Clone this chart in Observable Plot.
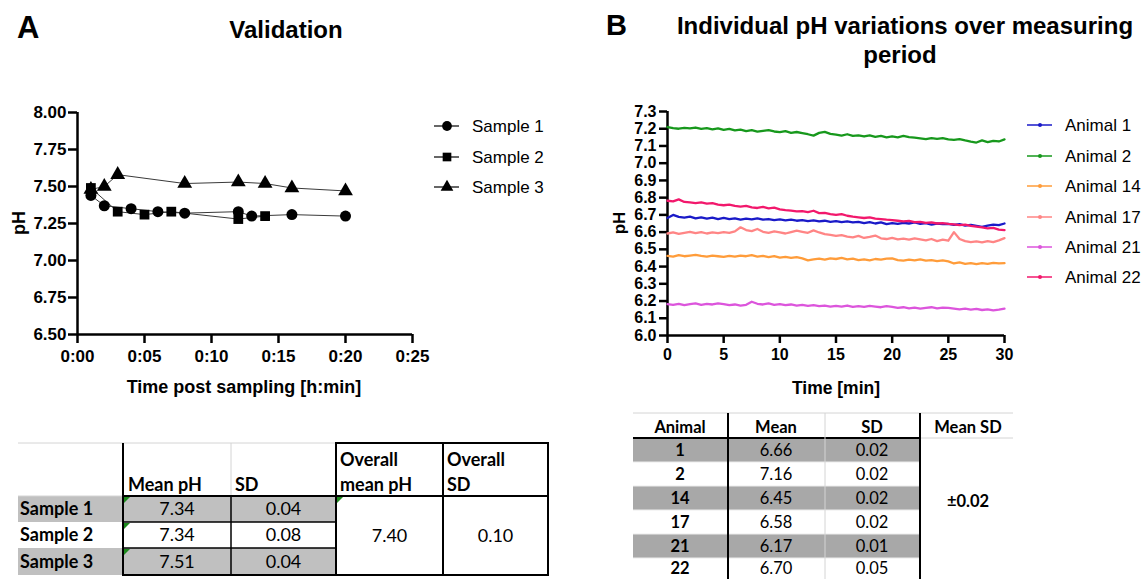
<!DOCTYPE html>
<html><head><meta charset="utf-8">
<script src="https://cdn.jsdelivr.net/npm/d3@7"></script>
<script src="https://cdn.jsdelivr.net/npm/@observablehq/plot@0.6"></script>
<style>
html,body{margin:0;padding:0;background:#fff;}
#page{position:relative;width:1148px;height:579px;overflow:hidden;}
#page > svg{position:absolute;}
</style></head>
<body><div id="page"></div>
<script>
// ---------- Panel A data ----------
const sampleNames = ["Sample 1","Sample 2","Sample 3"];
const sample1Time = [1,2,4,6,8,12,13,16,20];
const sample1PH   = [7.44,7.37,7.35,7.33,7.32,7.33,7.30,7.31,7.30];
const sample2Time = [1,3,5,7,12,14];
const sample2PH   = [7.49,7.33,7.31,7.33,7.28,7.30];
const sample3Time = [1,2,3,8,12,14,16,20];
const sample3PH   = [7.48,7.50,7.58,7.52,7.53,7.52,7.49,7.47];
const xTicksA = [0,5,10,15,20,25];
const yTicksA = [6.50,6.75,7.00,7.25,7.50,7.75,8.00];

// ---------- Panel A table ----------
const tableSampleLabels = ["Sample 1","Sample 2","Sample 3"];
const tableMeanPH = ["7.34","7.34","7.51"];
const tableSD = ["0.04","0.08","0.04"];
const overallMeanPH = "7.40";
const overallSD = "0.10";

// ---------- Panel B data ----------
const animalNames = ["Animal 1","Animal 2","Animal 14","Animal 17","Animal 21","Animal 22"];
const animalColors = ["#1a1ac8","#17981c","#ff9c3a","#ff8585","#dc55dc","#f2186c"];
const timeB = [0,0.5,1,1.5,2,2.5,3,3.5,4,4.5,5,5.5,6,6.5,7,7.5,8,8.5,9,9.5,10,10.5,11,11.5,12,12.5,13,13.5,14,14.5,15,15.5,16,16.5,17,17.5,18,18.5,19,19.5,20,20.5,21,21.5,22,22.5,23,23.5,24,24.5,25,25.5,26,26.5,27,27.5,28,28.5,29,29.5,30];
const animal1PH = [6.682,6.700,6.688,6.684,6.690,6.680,6.686,6.678,6.684,6.676,
  6.682,6.675,6.680,6.672,6.678,6.674,6.680,6.672,6.676,6.670,
  6.674,6.668,6.672,6.666,6.670,6.664,6.668,6.662,6.666,6.660,
  6.664,6.658,6.662,6.656,6.660,6.652,6.658,6.650,6.656,6.646,
  6.652,6.648,6.654,6.650,6.656,6.648,6.652,6.644,6.650,6.646,
  6.648,6.642,6.646,6.638,6.642,6.636,6.630,6.638,6.644,6.640,6.650];
const animal2PH = [7.210,7.203,7.200,7.205,7.202,7.207,7.199,7.203,7.196,7.202,
  7.193,7.199,7.190,7.195,7.186,7.192,7.183,7.188,7.192,7.184,
  7.180,7.186,7.176,7.181,7.175,7.168,7.160,7.176,7.182,7.170,
  7.166,7.160,7.168,7.158,7.162,7.155,7.162,7.153,7.158,7.150,
  7.155,7.150,7.158,7.151,7.148,7.144,7.140,7.146,7.141,7.145,
  7.138,7.135,7.140,7.132,7.125,7.120,7.132,7.122,7.130,7.126,7.138];
const animal14PH = [6.462,6.458,6.466,6.460,6.464,6.468,6.462,6.458,6.464,6.460,
  6.456,6.462,6.458,6.464,6.460,6.466,6.458,6.462,6.455,6.460,
  6.452,6.456,6.450,6.455,6.448,6.436,6.442,6.446,6.440,6.448,
  6.444,6.450,6.442,6.446,6.438,6.442,6.436,6.444,6.440,6.446,
  6.448,6.438,6.434,6.440,6.436,6.442,6.434,6.438,6.432,6.436,
  6.430,6.418,6.424,6.416,6.420,6.414,6.420,6.416,6.422,6.418,6.420];
const animal17PH = [6.592,6.598,6.590,6.596,6.602,6.594,6.600,6.592,6.598,6.594,
  6.600,6.596,6.604,6.628,6.612,6.606,6.618,6.602,6.596,6.604,
  6.598,6.592,6.600,6.608,6.602,6.596,6.610,6.598,6.588,6.584,
  6.578,6.582,6.574,6.570,6.578,6.566,6.572,6.580,6.564,6.560,
  6.566,6.558,6.562,6.556,6.564,6.558,6.552,6.560,6.548,6.556,
  6.550,6.600,6.560,6.548,6.542,6.546,6.540,6.548,6.542,6.552,6.565];
const animal21PH = [6.182,6.178,6.184,6.176,6.182,6.186,6.178,6.184,6.180,6.186,
  6.182,6.176,6.180,6.174,6.178,6.196,6.184,6.180,6.186,6.178,
  6.182,6.176,6.180,6.174,6.178,6.172,6.176,6.170,6.174,6.168,
  6.172,6.168,6.174,6.166,6.170,6.166,6.172,6.168,6.164,6.170,
  6.166,6.160,6.164,6.158,6.162,6.156,6.160,6.164,6.158,6.162,
  6.160,6.156,6.152,6.156,6.150,6.154,6.148,6.152,6.146,6.150,6.156];
const animal22PH = [6.782,6.778,6.790,6.775,6.772,6.768,6.772,6.765,6.768,6.760,
  6.756,6.760,6.752,6.748,6.752,6.744,6.740,6.746,6.738,6.742,
  6.732,6.728,6.725,6.720,6.722,6.716,6.724,6.710,6.712,6.705,
  6.700,6.704,6.695,6.690,6.686,6.682,6.686,6.678,6.675,6.672,
  6.670,6.666,6.662,6.665,6.658,6.660,6.654,6.656,6.650,6.652,
  6.648,6.645,6.640,6.644,6.636,6.632,6.628,6.622,6.625,6.615,6.612];
const xTicksB = [0,5,10,15,20,25,30];
const yTicksB = [6.0,6.1,6.2,6.3,6.4,6.5,6.6,6.7,6.8,6.9,7.0,7.1,7.2,7.3];

// ---------- Panel B table ----------
const animalIds = ["1","2","14","17","21","22"];
const animalMeans = ["6.66","7.16","6.45","6.58","6.17","6.70"];
const animalSDs = ["0.02","0.02","0.02","0.02","0.01","0.05"];
const meanSD = "±0.02";

// ---------- build tables for Plot ----------
const dataA = [];
[[sample1Time,sample1PH],[sample2Time,sample2PH],[sample3Time,sample3PH]].forEach(([ts,ps],i)=>{
  ts.forEach((t,j)=>dataA.push({sample:sampleNames[i], t, ph:ps[j]}));
});
const seriesB = [animal1PH,animal2PH,animal14PH,animal17PH,animal21PH,animal22PH];
const dataB = [];
seriesB.forEach((ps,i)=>ps.forEach((p,j)=>dataB.push({animal:animalNames[i], t:timeB[j], ph:p})));

const page = document.getElementById("page");
const ARIAL = "'Liberation Sans', Arial, sans-serif";

// ---------- Panel A chart ----------
const chartA = Plot.plot({
  width: 440, height: 320,
  marginLeft: 77, marginRight: 28, marginTop: 22, marginBottom: 76,
  style: {fontFamily: ARIAL, fontSize: "17px", fontWeight: "bold", color: "#000", background: "transparent", overflow: "visible"},
  x: {domain: [0, 25]},
  y: {domain: [6.5, 8.0]},
  symbol: {domain: sampleNames, range: ["circle","square","triangle"]},
  marks: [
    Plot.axisX({ticks: xTicksA, tickFormat: d => "0:" + String(d).padStart(2,"0"), tickSize: 9, tickPadding: 6, strokeWidth: 2.5, label: null}),
    Plot.axisY({ticks: yTicksA, tickFormat: d => d.toFixed(2), tickSize: 9, tickPadding: 2, strokeWidth: 2.5, label: null}),
    Plot.ruleY([6.5], {strokeWidth: 2.5}),
    Plot.ruleX([0], {strokeWidth: 2.5}),
    Plot.line(dataA, {x: "t", y: "ph", z: "sample", stroke: "#3a3a3a", strokeWidth: 1}),
    Plot.dot(dataA, {x: "t", y: "ph", symbol: "sample", fill: "#000", stroke: "none", r: 5.5})
  ]
});
chartA.style.left = "0px"; chartA.style.top = "90px";
page.appendChild(chartA);

// ---------- Panel B chart ----------
const chartB = Plot.plot({
  width: 420, height: 290,
  marginLeft: 67, marginRight: 16, marginTop: 21, marginBottom: 45,
  style: {fontFamily: ARIAL, fontSize: "16px", fontWeight: "bold", color: "#000", background: "transparent", overflow: "visible"},
  x: {domain: [0, 30]},
  y: {domain: [6.0, 7.3]},
  color: {domain: animalNames, range: animalColors},
  marks: [
    Plot.axisX({ticks: xTicksB, tickSize: 8, tickPadding: 5, strokeWidth: 2.5, label: null}),
    Plot.axisY({ticks: yTicksB, tickFormat: d => d.toFixed(1), tickSize: 8, tickPadding: 3, strokeWidth: 2.5, label: null}),
    Plot.ruleX([0], {strokeWidth: 2.5}),
    Plot.ruleY([6.0], {strokeWidth: 2.5}),
    Plot.line(dataB, {x: "t", y: "ph", stroke: "animal", strokeWidth: 2.3})
  ]
});
chartB.style.left = "600px"; chartB.style.top = "90px";
page.appendChild(chartB);

// ---------- Overlay: titles, labels, legends, tables ----------
const ov = d3.select(page).append("svg").attr("width",1148).attr("height",579)
  .style("left","0px").style("top","0px");
function txt(x,y,s,o={}) {
  return ov.append("text").attr("x",x).attr("y",y).text(s)
    .attr("font-family", o.family || ARIAL).attr("font-size", o.size || 17)
    .attr("font-weight", o.weight || "normal").attr("text-anchor", o.anchor || "start")
    .attr("fill","#000");
}
// titles
txt(17,38,"A",{size:31,weight:"bold"});
txt(286,38,"Validation",{size:24,weight:"bold",anchor:"middle"});
txt(606,35,"B",{size:29,weight:"bold"});
txt(905,34,"Individual pH variations over measuring",{size:24,weight:"bold",anchor:"middle"});
txt(900,63,"period",{size:24,weight:"bold",anchor:"middle"});
// axis labels
txt(244,393,"Time post sampling [h:min]",{size:18,weight:"bold",anchor:"middle"});
txt(0,0,"pH",{size:18,weight:"bold",anchor:"middle"}).attr("transform","translate(25,223) rotate(-90)");
txt(836,394,"Time [min]",{size:17.5,weight:"bold",anchor:"middle"});
txt(0,0,"pH",{size:17,weight:"bold",anchor:"middle"}).attr("transform","translate(625,223) rotate(-90)");

// legend A
const legASym = [d3.symbolCircle, d3.symbolSquare, d3.symbolTriangle];
const legASize = [75, 75, 70];
sampleNames.forEach((n,i)=>{
  const y = [126,157,187][i];
  ov.append("line").attr("x1",434).attr("x2",459).attr("y1",y).attr("y2",y).attr("stroke","#000").attr("stroke-width",1.2);
  ov.append("path").attr("d", d3.symbol(legASym[i], legASize[i])()).attr("transform",`translate(447,${y})`).attr("fill","#000");
  txt(472,y+6,n,{size:17});
});
// legend B
animalNames.forEach((n,i)=>{
  const y = [125,156,186,217,247,277][i];
  ov.append("line").attr("x1",1027).attr("x2",1052).attr("y1",y).attr("y2",y).attr("stroke",animalColors[i]).attr("stroke-width",1.5);
  ov.append("circle").attr("cx",1040).attr("cy",y).attr("r",2).attr("fill",animalColors[i]);
  txt(1065,y+6,n,{size:17});
});

// helpers
function rect(x,y,w,h,fill){ ov.append("rect").attr("x",x).attr("y",y).attr("width",w).attr("height",h).attr("fill",fill); }
function hl(x1,x2,y,w,c){ ov.append("line").attr("x1",x1).attr("x2",x2).attr("y1",y).attr("y2",y).attr("stroke",c).attr("stroke-width",w); }
function vl(x,y1,y2,w,c){ ov.append("line").attr("x1",x).attr("x2",x).attr("y1",y1).attr("y2",y2).attr("stroke",c).attr("stroke-width",w); }
function tri(x,y){ ov.append("path").attr("d",`M${x},${y}L${x+6},${y}L${x},${y+6}Z`).attr("fill","#1e8a1e"); }
const LATO = "Lato, 'Open Sans', sans-serif";

// ---------- Table A ----------
const cA = [18,123,231,336,443,548];
const rowTopA = [496,522,548], rowBotA = [522,548,575], baseA = [515,541,568];
const grayA = "#c0c0c0";
tableSampleLabels.forEach((s,i)=>{
  if (i !== 1) rect(cA[0],rowTopA[i],cA[3]-cA[0],rowBotA[i]-rowTopA[i],grayA);
});
hl(cA[0],cA[3],443,1,"#d4d4d4");
hl(cA[0],cA[1],496,1,"#d4d4d4");
vl(cA[2],443,496,1,"#d4d4d4");
vl(cA[1],443,576,2,"#000");
hl(cA[1],cA[3],496,2,"#000");
hl(cA[1],cA[3],522,1.5,"#000");
hl(cA[1],cA[3],548,1.5,"#000");
hl(cA[1]-1,cA[3],575,2,"#000");
vl(cA[2],496,575,1.5,"#000");
ov.append("rect").attr("x",cA[3]).attr("y",443).attr("width",cA[5]-cA[3]).attr("height",132).attr("fill","none").attr("stroke","#000").attr("stroke-width",2);
vl(cA[4],443,575,2,"#000");
hl(cA[3],cA[5],496,2,"#000");
rowTopA.forEach(y=>tri(cA[1]+1,y+1));
tri(cA[3]+1,497);
const tA = {family:LATO,size:18};
const tAb = {family:LATO,size:18,weight:"bold"};
txt(cA[1]+5,491,"Mean pH",tAb);
txt(cA[2]+4,491,"SD",tAb);
txt(cA[3]+4,466,"Overall",tAb);
txt(cA[3]+4,491,"mean pH",tAb);
txt(cA[4]+4,466,"Overall",tAb);
txt(cA[4]+4,491,"SD",tAb);
tableSampleLabels.forEach((s,i)=>{
  txt(20,baseA[i],s,tAb);
  txt((cA[1]+cA[2])/2,baseA[i],tableMeanPH[i],{...tA,anchor:"middle"});
  txt((cA[2]+cA[3])/2,baseA[i],tableSD[i],{...tA,anchor:"middle"});
});
txt((cA[3]+cA[4])/2,542,overallMeanPH,{...tA,anchor:"middle"});
txt((cA[4]+cA[5])/2,542,overallSD,{...tA,anchor:"middle"});

// ---------- Table B ----------
const rowTopB = [438,462,486,510,534,558], rowBotB = [462,486,510,534,558,583];
const baseB = [456,480,504,528,552,574];
const grayB = "#a8a8a8";
animalIds.forEach((a,i)=>{ if (i % 2 === 0) rect(633,rowTopB[i],287,rowBotB[i]-rowTopB[i],grayB); });
rowTopB.slice(1).forEach(y=>hl(633,920,y,1,"#ececec"));
hl(633,1013,413,1,"#d4d4d4");
hl(920,1013,438,1,"#d4d4d4");
hl(633,920,438,2,"#000");
vl(825,413,583,1,"#d4d4d4");
vl(728,413,583,2,"#000");
vl(920,413,583,2,"#000");
const tB = {family:LATO,size:16.5};
const tBb = {family:LATO,size:16.5,weight:"bold"};
txt(680,433,"Animal",{...tBb,anchor:"middle"});
txt(776,433,"Mean",{...tBb,anchor:"middle"});
txt(872,433,"SD",{...tBb,anchor:"middle"});
txt(968,433,"Mean SD",{...tBb,anchor:"middle"});
animalIds.forEach((a,i)=>{
  txt(680,baseB[i],a,{...tBb,anchor:"middle"});
  txt(776,baseB[i],animalMeans[i],{...tB,anchor:"middle"});
  txt(872,baseB[i],animalSDs[i],{...tB,anchor:"middle"});
});
txt(968,507,meanSD,{...tBb,anchor:"middle"});
</script>
</body></html>
